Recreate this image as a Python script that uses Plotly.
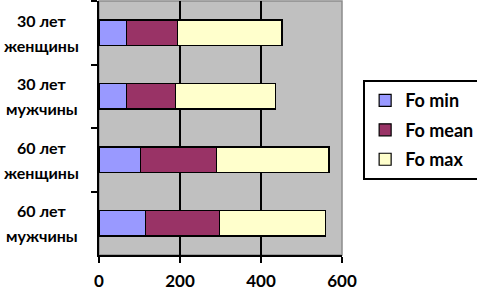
import plotly.graph_objects as go

categories = ["30 лет<br>женщины", "30 лет<br>мужчины", "60 лет<br>женщины", "60 лет<br>мужчины"]
fo_min = [68, 68, 102, 114]
fo_mean = [125, 121, 189, 183]
fo_max = [259, 246, 277, 263]
x_ticks = [0, 200, 400, 600]

series = [("Fo min", fo_min, "#9999FF"), ("Fo mean", fo_mean, "#993366"), ("Fo max", fo_max, "#FFFFCC")]

FONT = "Lato"
fig = go.Figure()
for name, vals, col in series:
    fig.add_trace(go.Bar(y=categories, x=vals, name=name, orientation="h", legendgroup=name,
                         marker=dict(color=col, line=dict(color="black", width=1.2))))

for c in categories:
    lines = c.split("<br>")
    n = len(lines)
    for i, ln in enumerate(lines):
        fig.add_annotation(x=-0.235, xref="paper", y=c, yref="y", text=ln, showarrow=False,
                           xanchor="center", yanchor="middle", yshift=(n - 1) / 2 * 25 - i * 25,
                           font=dict(family=FONT, size=16, color="black", weight="bold"))

fig.update_layout(
    width=477, height=292,
    margin=dict(l=99, r=135, t=1, b=37, autoexpand=False),
    barmode="stack", bargap=0.6,
    plot_bgcolor="#C0C0C0", paper_bgcolor="white",
    font=dict(family=FONT, size=16, color="black", weight="bold"),
    legend=dict(x=1.087, y=0.688, xanchor="left", yanchor="top", traceorder="grouped",
                tracegroupgap=3, itemwidth=30,
                bordercolor="black", borderwidth=2, bgcolor="white",
                font=dict(family=FONT, size=18, color="black", weight="bold")),
    xaxis=dict(range=[0, 600], tickvals=x_ticks, showgrid=True, gridcolor="black", gridwidth=1.5,
               showline=True, linecolor="black", linewidth=2, ticks="outside", ticklen=6,
               tickwidth=2, tickcolor="black", zeroline=False, fixedrange=True,
               ticklabelstandoff=4,
               tickfont=dict(family=FONT, size=17, color="black", weight="bold")),
    yaxis=dict(autorange="reversed", showticklabels=False, tickson="boundaries", ticks="outside",
               ticklen=6, tickwidth=2, tickcolor="black", showline=True, linecolor="black",
               linewidth=2, showgrid=False, zeroline=False, fixedrange=True),
    shapes=[dict(type="rect", xref="paper", yref="paper", x0=0, x1=1, y0=0, y1=1,
                 line=dict(color="#8C8C8C", width=1.5), layer="below")],
)

fig.write_html("out.html", config={"displayModeBar": False},
               post_script="document.body.style.margin='0';document.body.style.overflow='hidden';")
